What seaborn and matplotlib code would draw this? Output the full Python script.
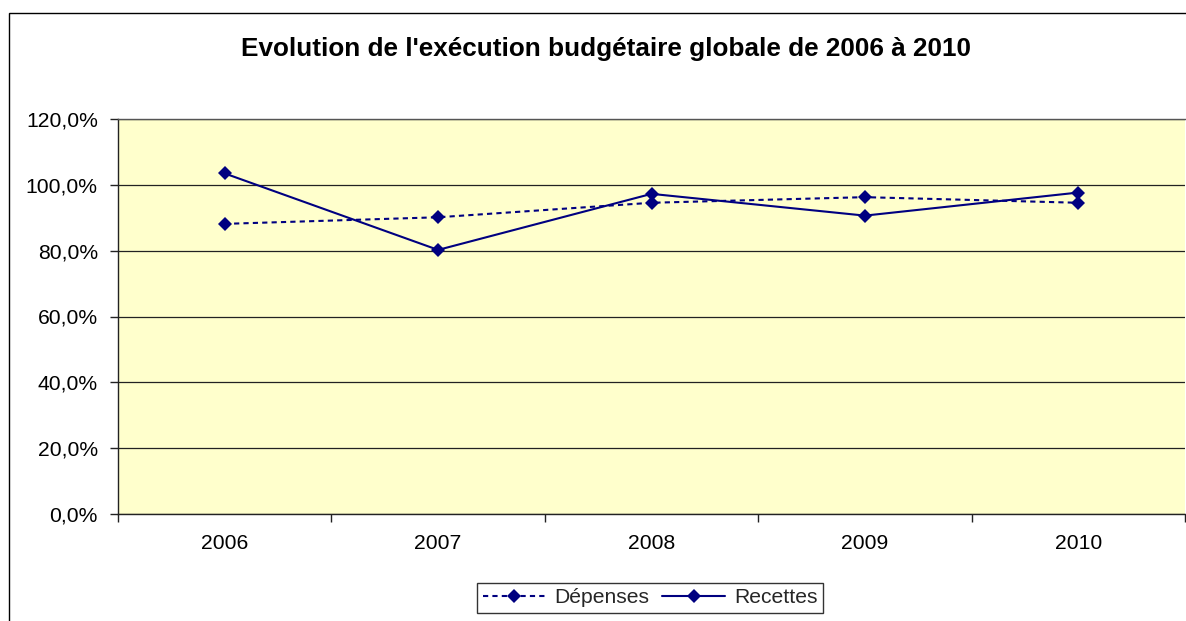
import matplotlib
matplotlib.use("Agg")
import matplotlib.pyplot as plt
from matplotlib.patches import Rectangle
from matplotlib.ticker import FuncFormatter, FixedLocator
import seaborn as sns
import pandas as pd

# Budget execution rates (%) per year
years = ["2006", "2007", "2008", "2009", "2010"]
depenses = [88.1, 90.1, 94.5, 96.2, 94.5]
recettes = [103.4, 80.2, 97.2, 90.6, 97.6]
y_ticks = [0, 20, 40, 60, 80, 100, 120]
title = "Evolution de l'exécution budgétaire globale de 2006 à 2010"

sns.set_style("ticks")
plt.rcParams["font.family"] = ["Liberation Sans", "DejaVu Sans"]

df = pd.DataFrame({"pos": range(len(years)), "annee": years,
                   "Dépenses": depenses, "Recettes": recettes})

W, H = 1186, 621
fig = plt.figure(figsize=(W / 100, H / 100), dpi=100)
fig.patch.set_facecolor("white")

left, right, top, bottom = 118, 1185, 118.7, 514.3
ax = fig.add_axes([left / W, (H - bottom) / H, (right - left) / W, (bottom - top) / H])
ax.set_facecolor("#FFFFCC")

navy = "#000080"
sns.lineplot(data=df, x="pos", y="Dépenses", ax=ax, color=navy, marker="D",
             markersize=7.5, markeredgewidth=0, linewidth=1.5,
             linestyle=(0, (2.5, 2.0)), label="Dépenses")
sns.lineplot(data=df, x="pos", y="Recettes", ax=ax, color=navy, marker="D",
             markersize=7.5, markeredgewidth=0, linewidth=1.5,
             linestyle="-", label="Recettes")

ax.set_xlim(-0.5, len(years) - 0.5)
ax.set_ylim(0, 120)
ax.set_xlabel("")
ax.set_ylabel("")

# y axis: percentages with a comma as decimal separator
ax.yaxis.set_major_locator(FixedLocator(y_ticks))
ax.yaxis.set_major_formatter(FuncFormatter(lambda v, _: f"{v:.1f}%".replace(".", ",")))
ax.tick_params(axis="y", direction="out", length=6, width=1, color="#222222",
               pad=8.5, labelsize=15.2, labelcolor="black")
ax.grid(axis="y", color="#222222", linewidth=0.9)
ax.set_axisbelow(True)

# x axis: labels at category centres, tick marks between categories
ax.set_xticks(range(len(years)))
ax.set_xticklabels(years)
ax.set_xticks([i - 0.5 for i in range(len(years) + 1)], minor=True)
ax.tick_params(axis="x", which="major", length=0, pad=14, labelsize=15.2, labelcolor="black")
ax.tick_params(axis="x", which="minor", direction="out", length=6, width=1, color="#222222")

for side in ("left", "bottom"):
    ax.spines[side].set_color("#222222")
    ax.spines[side].set_linewidth(1)
ax.spines["top"].set_color("#555555")
ax.spines["top"].set_linewidth(1)
ax.spines["right"].set_visible(False)

leg = ax.legend(loc="upper center", bbox_to_anchor=(650 / W, (H - 583) / H),
                bbox_transform=fig.transFigure, ncol=2, frameon=True,
                fancybox=False, edgecolor="black", fontsize=15.2,
                handlelength=3.0, handletextpad=0.4, columnspacing=0.6,
                borderpad=0.25, borderaxespad=0)
leg.get_frame().set_linewidth(1)

fig.text(606 / W, (H - 49) / H, title, ha="center", va="center",
         fontsize=18.8, fontweight="bold", color="black")

# chart border (left and top edges fall inside the canvas)
fig.add_artist(Rectangle((9 / W, -0.1), 1.2, (H - 12.5) / H + 0.1,
                         transform=fig.transFigure, fill=False,
                         edgecolor="black", linewidth=1, clip_on=False))

fig.savefig("out.png", dpi=100)
